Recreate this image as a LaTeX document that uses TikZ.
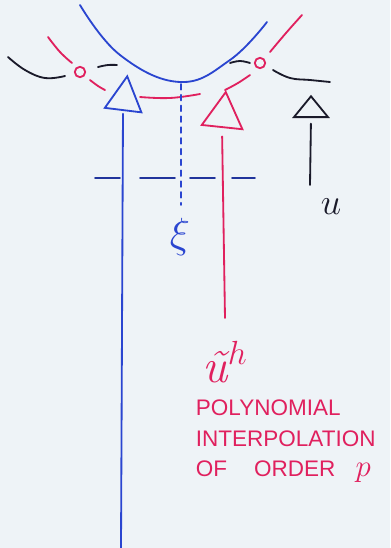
\RequirePackage{fix-cm}
\documentclass[tikz,border=0pt]{standalone}
\usepackage{fontspec}
\newfontfamily\handfont{Liberation Sans}
\usetikzlibrary{shapes.geometric}
\definecolor{paper}{HTML}{EEF3F7}
\definecolor{penblue}{HTML}{2A45D0}
\definecolor{penred}{HTML}{E0205E}
\definecolor{penink}{HTML}{1A1A2A}

\begin{document}
\begin{tikzpicture}[x=0.025cm, y=-0.025cm, line width=1.3pt, line cap=round, tri/.style={draw, isosceles triangle, isosceles triangle stretches, shape border rotate=90, inner sep=0pt, anchor=lower side}, knot/.style={draw=penred, circle, inner sep=0pt, minimum size=2.6mm, fill=paper}, pen/.style={smooth, tension=0.7}]
\fill[paper] (0,0) rectangle (390,548);
\useasboundingbox (0,0) rectangle (390,548);
% curves at the top
\draw[penblue] plot[pen] coordinates {(80,5) (120,55) (180,82) (230,60) (267,22)};
\draw[penink] plot[pen] coordinates {(8,57) (25,70) (45,78) (65,76)};
\draw[penink] plot[pen] coordinates {(98,67) (108,65) (117,65)};
\draw[penink] plot[pen] coordinates {(230,63) (240,61) (250,63)};
\draw[penink] plot[pen] coordinates {(273,70) (290,78) (310,80) (330,82)};
\foreach \piece in {{(48,37) (60,52) (72,63)}, {(90,80) (98,86) (105,90)}, {(140,97) (170,98) (200,94)}, {(225,90) (238,83) (250,75)}, {(270,52) (286,33) (302,15)}}
  \draw[penred] plot[pen] coordinates {\piece};
\node[knot] (k1) at (80,72) {};
\node[knot] (k2) at (260,63) {};
% triangles and their stems
\node[tri, draw=penblue, rotate=-7, minimum width=0.92cm, minimum height=0.85cm] (bluetri) at (123,111) {};
\node[tri, draw=penred, rotate=-6, minimum width=1.02cm, minimum height=0.88cm] (redtri) at (222,128) {};
\node[tri, draw=penink, minimum width=0.85cm, minimum height=0.52cm] (blacktri) at (311,118) {};
\coordinate (bluefoot) at (121,548);
\coordinate (redfoot) at (225,318);
\coordinate (blackfoot) at (310,185);
\draw[penblue, shorten <=2pt] (bluetri.lower side) -- (bluefoot); \draw[penred, shorten <=6pt] (redtri.lower side) -- (redfoot); \draw[penink, shorten <=4pt] (blacktri.lower side) -- (blackfoot);
% cut line and axis
\draw[penblue, dash pattern=on 1.4mm off 1.3mm] (181,84) -- (181,205);
\foreach \a/\b in {95/120, 140/175, 190/215, 232/255}
  \draw[penblue!75!black] (\a,178) -- (\b,178);
% labels
\node[penblue, font=\fontsize{30}{32}\selectfont] (xi) at (180,237) {$\xi$};
\node[penink, font=\fontsize{26}{28}\selectfont] (ulbl) at (331,207) {$u$};
\node[penred, font=\fontsize{34}{36}\selectfont] (uh) at (225,362) {{\itshape ũ}$^{h}$};
\node[penred, font=\handfont\fontsize{16}{21.6}\selectfont, align=left, anchor=north west, inner sep=0pt] (note) at (195,399) {POLYNOMIAL\\INTERPOLATION\\OF\hspace{1.2em}ORDER\hspace{0.9em}{\fontsize{22}{22}\selectfont$p$}};
\end{tikzpicture}
\end{document}
